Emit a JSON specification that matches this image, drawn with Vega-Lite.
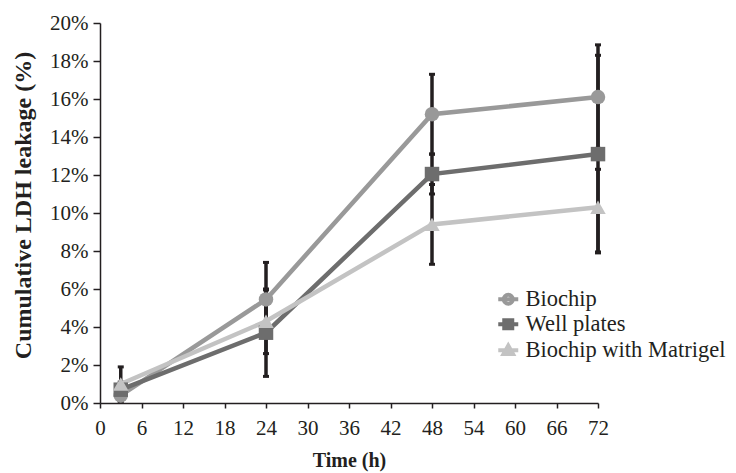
{
  "$schema": "https://vega.github.io/schema/vega-lite/v6.json",
  "width": 498,
  "height": 380,
  "autosize": "none",
  "padding": {"left": 100, "top": 23, "right": 138, "bottom": 70},
  "background": "white",
  "config": {
    "view": {"stroke": null},
    "font": "Liberation Serif",
    "legend": {"labelFont": "Liberation Serif"},
    "axis": {
      "grid": false,
      "domainColor": "#231f20",
      "domainWidth": 1.5,
      "tickColor": "#231f20",
      "tickWidth": 1.5,
      "labelFont": "Liberation Serif",
      "labelColor": "#231f20",
      "labelFontSize": 21,
      "labelOverlap": false,
      "titleFont": "Liberation Serif",
      "titleColor": "#231f20",
      "titleFontWeight": "bold"
    }
  },
  "data": {
    "values": [
      {"series": "Biochip", "time": 3, "value": 0.4, "lo": 0.1, "hi": 0.7},
      {"series": "Biochip", "time": 24, "value": 5.45, "lo": 3.5, "hi": 7.4},
      {"series": "Biochip", "time": 48, "value": 15.2, "lo": 13.1, "hi": 17.3},
      {"series": "Biochip", "time": 72, "value": 16.1, "lo": 13.4, "hi": 18.85},
      {"series": "Well plates", "time": 3, "value": 0.7, "lo": 0.3, "hi": 1.1},
      {"series": "Well plates", "time": 24, "value": 3.7, "lo": 1.4, "hi": 5.95},
      {"series": "Well plates", "time": 48, "value": 12.05, "lo": 11.0, "hi": 13.1},
      {"series": "Well plates", "time": 72, "value": 13.1, "lo": 7.9, "hi": 18.3},
      {"series": "Biochip with Matrigel", "time": 3, "value": 1.0, "lo": 0.1, "hi": 1.9},
      {"series": "Biochip with Matrigel", "time": 24, "value": 4.3, "lo": 2.6, "hi": 6.0},
      {"series": "Biochip with Matrigel", "time": 48, "value": 9.4, "lo": 7.3, "hi": 11.5},
      {"series": "Biochip with Matrigel", "time": 72, "value": 10.3, "lo": 7.95, "hi": 12.3}
    ]
  },
  "encoding": {
    "x": {
      "field": "time",
      "type": "quantitative",
      "scale": {"domain": [0, 72], "nice": false, "zero": false},
      "axis": {
        "values": [0, 6, 12, 18, 24, 30, 36, 42, 48, 54, 60, 66, 72],
        "title": "Time (h)",
        "titleFontSize": 20,
        "titlePadding": 12,
        "labelPadding": 9,
        "tickSize": 5,
        "labelFlush": false
      }
    },
    "y": {
      "field": "value",
      "type": "quantitative",
      "scale": {"domain": [0, 20], "nice": false},
      "axis": {
        "values": [0, 2, 4, 6, 8, 10, 12, 14, 16, 18, 20],
        "labelExpr": "datum.value + '%'",
        "title": "Cumulative LDH leakage (%)",
        "titleFontSize": 24,
        "titlePadding": 14,
        "titleY": 182,
        "labelPadding": 5,
        "tickSize": 7
      }
    },
    "color": {
      "field": "series",
      "type": "nominal",
      "scale": {"domain": ["Biochip", "Well plates", "Biochip with Matrigel"], "range": ["#999999", "#6d6d6d", "#c3c3c3"]},
      "legend": {
        "orient": "none",
        "legendX": 397,
        "legendY": 265,
        "title": null,
        "padding": 0,
        "rowPadding": 0,
        "labelFont": "Liberation Serif",
        "labelFontSize": 22.5,
        "labelColor": "#231f20",
        "labelOffset": 6,
        "labelLimit": 400,
        "symbolOpacity": 1,
        "symbolStrokeWidth": 4
      }
    }
  },
  "layer": [
    {
      "mark": {"type": "rule", "strokeWidth": 3.5},
      "encoding": {
        "color": {"value": "#231f20"},
        "y": {"field": "lo", "type": "quantitative"},
        "y2": {"field": "hi"}
      }
    },
    {
      "mark": {"type": "tick", "orient": "horizontal", "size": 6, "thickness": 3, "opacity": 1},
      "encoding": {"color": {"value": "#231f20"}, "y": {"field": "lo", "type": "quantitative"}}
    },
    {
      "mark": {"type": "tick", "orient": "horizontal", "size": 6, "thickness": 3, "opacity": 1},
      "encoding": {"color": {"value": "#231f20"}, "y": {"field": "hi", "type": "quantitative"}}
    },
    {
      "mark": {"type": "line", "strokeWidth": 4.5}
    },
    {
      "transform": [{"filter": "datum.series === 'Biochip'"}],
      "mark": {"type": "point", "filled": true, "opacity": 1, "size": 210, "shape": "circle"}
    },
    {
      "transform": [{"filter": "datum.series === 'Well plates'"}],
      "mark": {"type": "point", "filled": true, "opacity": 1, "size": 210, "shape": "square"}
    },
    {
      "transform": [{"filter": "datum.series === 'Biochip with Matrigel'"}],
      "mark": {"type": "point", "filled": true, "opacity": 1, "size": 240, "shape": "triangle-up"}
    },
    {
      "mark": {"type": "point", "filled": true, "opacity": 0, "size": 144, "strokeWidth": 4},
      "encoding": {
        "stroke": {
          "field": "series",
          "type": "nominal",
          "scale": {"domain": ["Biochip", "Well plates", "Biochip with Matrigel"], "range": ["#999999", "#6d6d6d", "#c3c3c3"]}
        },
        "shape": {
          "field": "series",
          "type": "nominal",
          "scale": {
            "domain": ["Biochip", "Well plates", "Biochip with Matrigel"],
            "range": [
              "M-2,0L2,0M-0.9,0A0.9,0.9,0,1,1,0.9,0A0.9,0.9,0,1,1,-0.9,0Z",
              "M-2,0L2,0M-0.8,-0.8L0.8,-0.8L0.8,0.8L-0.8,0.8Z",
              "M-2,0L2,0M0,-0.95L0.95,0.75L-0.95,0.75Z"
            ]
          }
        }
      }
    }
  ]
}
